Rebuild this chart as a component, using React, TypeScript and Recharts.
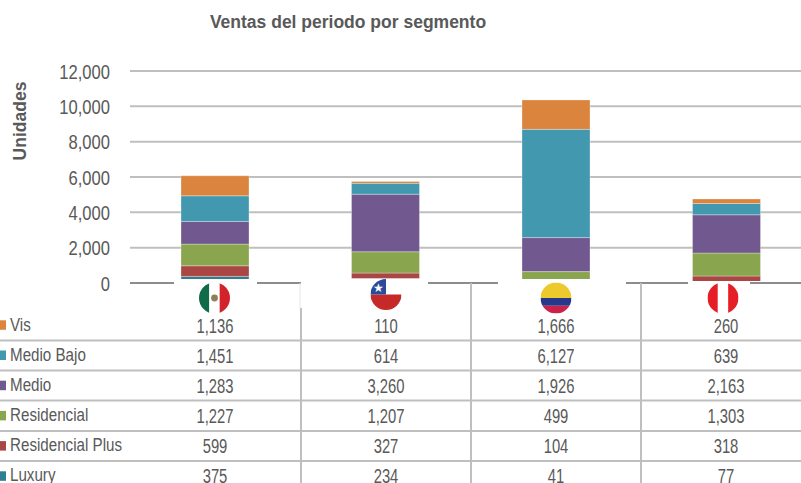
import { BarChart, Bar, XAxis, YAxis, CartesianGrid } from 'recharts';

const paises = ['México', 'Chile', 'Colombia', 'Perú'];
const vis = [1136, 110, 1666, 260];
const medioBajo = [1451, 614, 6127, 639];
const medio = [1283, 3260, 1926, 2163];
const residencial = [1227, 1207, 499, 1303];
const residencialPlus = [599, 327, 104, 318];
const luxury = [375, 234, 41, 77];
const yTicks = [0, 2000, 4000, 6000, 8000, 10000, 12000];

const fmt = (n: number) => n.toLocaleString('en-US');
const GRIS = '#595959';
const LINEA = '#bfbfbf';
const FUENTE = '"Liberation Sans", Arial, sans-serif';

const filas = [
  { nombre: 'Vis', color: '#db843d', valores: vis },
  { nombre: 'Medio Bajo', color: '#4198af', valores: medioBajo },
  { nombre: 'Medio', color: '#71588f', valores: medio },
  { nombre: 'Residencial', color: '#89a54e', valores: residencial },
  { nombre: 'Residencial Plus', color: '#aa4643', valores: residencialPlus },
  { nombre: 'Luxury', color: '#2f7f93', valores: luxury },
];

const chartData = paises.map((pais, i) => ({
  pais,
  vis: vis[i],
  medioBajo: medioBajo[i],
  medio: medio[i],
  residencial: residencial[i],
  residencialPlus: residencialPlus[i],
  luxury: luxury[i],
}));

// texto estrecho: la fuente Narrow no esta instalada
function Estrecho({ x, y, size, sx, anchor, children }: any) {
  return (
    <text transform={`translate(${x},${y}) scale(${sx},1)`} textAnchor={anchor} fontFamily={FUENTE} fontSize={size} fill={GRIS}>
      {children}
    </text>
  );
}

function TickY({ y, payload }: any) {
  return (
    <Estrecho x={110} y={y + 7.5} size={21} sx={0.79} anchor="end">
      {fmt(payload.value)}
    </Estrecho>
  );
}

function Bandera({ pais, cx, cy }: { pais: string; cx: number; cy: number }) {
  const id = 'flag-' + cx;
  const r = 15.5;
  const x = cx - r;
  const y = cy - r;
  const d = r * 2;
  return (
    <g>
      <clipPath id={id}>
        <circle cx={cx} cy={cy} r={r} />
      </clipPath>
      <g clipPath={`url(#${id})`}>
        {pais === 'México' && (
          <>
            <rect x={x} y={y} width={d / 3} height={d} fill="#0f6b48" />
            <rect x={x + d / 3} y={y} width={d / 3} height={d} fill="#fff" />
            <rect x={x + (2 * d) / 3} y={y} width={d / 3} height={d} fill="#d2232a" />
            <circle cx={cx} cy={cy} r={3.4} fill="#8f7f55" />
          </>
        )}
        {pais === 'Chile' && (
          <>
            <rect x={x} y={y} width={d} height={d / 2} fill="#fff" />
            <rect x={x} y={cy} width={d} height={d / 2} fill="#c62a28" />
            <rect x={x} y={y} width={d / 2} height={d / 2} fill="#2b4a9b" />
            <text x={cx - r / 2} y={cy - 3} fontSize={12} fill="#fff" textAnchor="middle">★</text>
          </>
        )}
        {pais === 'Colombia' && (
          <>
            <rect x={x} y={y} width={d} height={d / 2} fill="#edc92d" />
            <rect x={x} y={cy} width={d} height={d / 4} fill="#26388c" />
            <rect x={x} y={cy + d / 4} width={d} height={d / 4} fill="#c8234a" />
          </>
        )}
        {pais === 'Perú' && (
          <>
            <rect x={x} y={y} width={d / 3} height={d} fill="#e61f26" />
            <rect x={x + d / 3} y={y} width={d / 3} height={d} fill="#fff" />
            <rect x={x + (2 * d) / 3} y={y} width={d / 3} height={d} fill="#e61f26" />
          </>
        )}
      </g>
    </g>
  );
}

// mascaras blancas de las imagenes de bandera sobre la linea del cero
const mascaras = [
  { x: 174, w: 83, y: 279 },
  { x: 301, w: 127, y: 278.5 },
  { x: 498, w: 128, y: 279 },
  { x: 688, w: 74, y: 281 },
];
const centros = [215, 386, 556, 726];
const banderas = [
  { cx: 214.5, cy: 298 },
  { cx: 386, cy: 294.5 },
  { cx: 556, cy: 298 },
  { cx: 723, cy: 298 },
];
const lineasH = [340.5, 370.5, 400.5, 431, 461];
const lineasV = [301, 471, 641];

const bordeBarra = { stroke: '#ffffff', strokeOpacity: 0.3, strokeWidth: 1, barSize: 68, isAnimationActive: false };

export default function App() {
  return (
    <div style={{ position: 'absolute', left: 0, top: 0, width: 801, height: 483, overflow: 'hidden', background: '#fff' }}>
      <BarChart width={812} height={300} data={chartData} margin={{ top: 71, right: 0, bottom: 0, left: 0 }}>
        <CartesianGrid vertical={false} stroke={LINEA} strokeWidth={2} />
        <XAxis dataKey="pais" height={17} tick={false} tickLine={false} axisLine={{ stroke: '#8c8c8c', strokeWidth: 2 }} />
        <YAxis
          domain={[0, 12000]}
          ticks={yTicks}
          width={130}
          axisLine={false}
          tickLine={false}
          tick={<TickY />}
          interval={0}
        />
        <Bar dataKey="luxury" stackId="a" fill="#2f7f93" {...bordeBarra} />
        <Bar dataKey="residencialPlus" stackId="a" fill="#aa4643" {...bordeBarra} />
        <Bar dataKey="residencial" stackId="a" fill="#89a54e" {...bordeBarra} />
        <Bar dataKey="medio" stackId="a" fill="#71588f" {...bordeBarra} />
        <Bar dataKey="medioBajo" stackId="a" fill="#4198af" {...bordeBarra} />
        <Bar dataKey="vis" stackId="a" fill="#db843d" {...bordeBarra} />
      </BarChart>
      <svg width={801} height={483} style={{ position: 'absolute', left: 0, top: 0 }}>
        <text x={348} y={28} textAnchor="middle" fontFamily={FUENTE} fontWeight="bold" fontSize={17.5} fill={GRIS}>
          Ventas del periodo por segmento
        </text>
        <text transform="translate(26,121) rotate(-90)" textAnchor="middle" fontFamily={FUENTE} fontWeight="bold" fontSize={17.5} fill={GRIS}>
          Unidades
        </text>
        {mascaras.map((m) => (
          <rect key={m.x} x={m.x} y={m.y} width={m.w} height={30} fill="#fff" />
        ))}
        <line x1={750} x2={762} y1={283} y2={283} stroke="#8c8c8c" strokeWidth={2} />
        {lineasH.map((y) => (
          <line key={y} x1={0} x2={801} y1={y} y2={y} stroke={LINEA} strokeWidth={2} />
        ))}
        {lineasV.map((x, i) => (
          <line key={x} x1={x} x2={x} y1={i === 0 ? 308 : 283} y2={483} stroke={LINEA} strokeWidth={2} />
        ))}
        <line x1={300} x2={300} y1={283} y2={308} stroke="#e6e6e6" strokeWidth={1} />
        {paises.map((p, i) => (
          <Bandera key={p} pais={p} cx={banderas[i].cx} cy={banderas[i].cy} />
        ))}
        {filas.map((f, r) => {
          const y = 332.5 + r * 30;
          return (
            <g key={f.nombre}>
              <rect x={0} y={320.3 + r * 30.2} width={6} height={9.5} fill={f.color} />
              <Estrecho x={10} y={y - 1.5} size={18.5} sx={0.82} anchor="start">
                {f.nombre}
              </Estrecho>
              {f.valores.map((v, i) => (
                <Estrecho key={i} x={centros[i]} y={y} size={19.5} sx={0.76} anchor="middle">
                  {fmt(v)}
                </Estrecho>
              ))}
            </g>
          );
        })}
      </svg>
    </div>
  );
}
